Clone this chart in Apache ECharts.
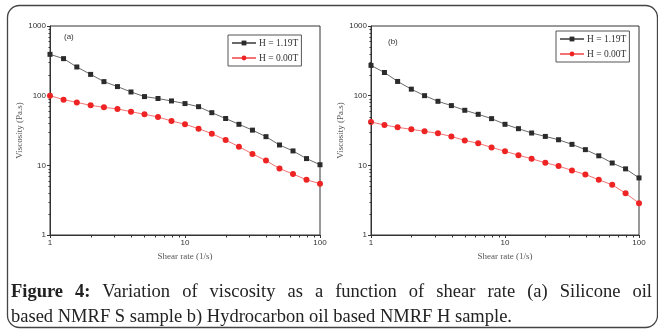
<!DOCTYPE html>
<html>
<head>
<meta charset="utf-8">
<script src="https://cdn.jsdelivr.net/npm/echarts@6/dist/echarts.min.js"></script>
<style>
  html, body { margin: 0; padding: 0; background: #fff; }
  #wrap { position: relative; width: 658px; height: 331px; overflow: hidden; }
  #chart { position: absolute; left: 0; top: 0; width: 658px; height: 331px; }
  .cap {
    position: absolute; left: 11px; width: 641px;
    font-family: "Liberation Serif", "DejaVu Serif", serif;
    font-size: 18.5px; line-height: 21px; color: #222; white-space: nowrap;
  }
  #cap1 { top: 281px; text-align: justify; text-align-last: justify; white-space: normal; }
  #cap2 { top: 306px; }
</style>
</head>
<body>
<div id="wrap">
  <div id="chart"></div>
  <div class="cap" id="cap1"><b>Figure 4:</b> Variation of viscosity as a function of shear rate (a) Silicone oil</div>
  <div class="cap" id="cap2">based NMRF S sample b) Hydrocarbon oil based NMRF H sample.</div>
</div>
<script>
// shear rate (1/s), same for both samples
const shearRate = [1, 1.26, 1.58, 2, 2.51, 3.16, 3.98, 5.01, 6.31, 7.94, 10, 12.6, 15.8, 20, 25.1, 31.6, 39.8, 50.1, 63.1, 79.4, 100];
// (a) silicone oil based sample, viscosity Pa.s
const siliconeOn = [392, 340, 258, 202, 159, 135, 113, 97, 91, 84, 77, 69.5, 57, 47, 38.8, 32, 25.8, 19.6, 16.1, 12.5, 10.2];
const siliconeOff = [100, 87.7, 80, 72.6, 68, 64.4, 58.9, 54, 49.4, 43.3, 38.8, 33.6, 28.5, 23.1, 18.5, 14.6, 11.7, 9.0, 7.5, 6.2, 5.45];
// (b) hydrocarbon oil based sample
const hydroOn = [272, 215, 160, 124, 100, 83, 72, 61.7, 54, 46.8, 38.8, 33.6, 29.1, 26, 23.3, 20, 16.8, 13.7, 10.8, 8.9, 6.6];
const hydroOff = [41.9, 37.9, 35.1, 32.9, 30.8, 28.8, 26, 22.8, 20.7, 18.1, 15.9, 14, 12.4, 10.9, 9.75, 8.45, 7.4, 6.2, 5.25, 3.98, 2.86];
const legendNames = ["H = 1.19T", "H = 0.00T"];
const panelTags = ["(a)", "(b)"];
// minor log ticks (2..9 of each decade)
const xMinor = [2, 3, 4, 5, 6, 7, 8, 9, 20, 30, 40, 50, 60, 70, 80, 90];
const yMinor = [2, 3, 4, 5, 6, 7, 8, 9, 20, 30, 40, 50, 60, 70, 80, 90, 200, 300, 400, 500, 600, 700, 800, 900];

const serif = '"Liberation Serif", "DejaVu Serif", serif';
const sans = '"Liberation Sans", Arial, sans-serif';

function pair(xs, ys) {
  return xs.map((x, i) => [x, ys[i]]);
}

function xAxisFor(idx) {
  return {
    type: "log", logBase: 10, gridIndex: idx, min: 1, max: 100,
    name: "Shear rate (1/s)", nameLocation: "middle", nameGap: 17,
    nameTextStyle: { fontFamily: serif, fontSize: 9, color: "#555" },
    axisLine: { lineStyle: { color: "#333", width: 1 } },
    axisTick: { show: true, inside: false, length: 3, lineStyle: { color: "#333" } },
    axisLabel: { fontFamily: sans, fontSize: 8, color: "#333", margin: 4, formatter: v => String(v) },
    splitLine: { show: false }
  };
}

function yAxisFor(idx) {
  return {
    type: "log", logBase: 10, gridIndex: idx, min: 1, max: 1000,
    name: "Viscosity (Pa.s)", nameLocation: "middle", nameGap: 17,
    nameTextStyle: { fontFamily: serif, fontSize: 9, color: "#555" },
    axisLine: { lineStyle: { color: "#333", width: 1 } },
    axisTick: { show: true, inside: false, length: 3, lineStyle: { color: "#333" } },
    axisLabel: { fontFamily: sans, fontSize: 8, color: "#333", margin: 4, formatter: v => String(v) },
    splitLine: { show: false }
  };
}

// short minor ticks drawn through the axes' own scales
// (log axis minorTick doesn't give the 2..9 pattern)
function minorTicks(idx, dir) {
  const vals = dir === "x" ? xMinor : yMinor;
  return {
    type: "custom", xAxisIndex: idx, yAxisIndex: idx, silent: true, clip: false, z: 5,
    data: vals.map(v => (dir === "x" ? [v, 1] : [1, v])),
    renderItem: (params, api) => {
      const p = api.coord([api.value(0), api.value(1)]);
      const x = Math.round(p[0]) + 0.5;
      const y = Math.round(p[1]) + 0.5;
      const shape = dir === "x"
        ? { x1: x, y1: y, x2: x, y2: y + 2 }
        : { x1: x - 2, y1: y, x2: x, y2: y };
      return { type: "line", shape: shape, style: { stroke: "#333", lineWidth: 1 } };
    }
  };
}

function onSeries(idx, data) {
  return {
    name: legendNames[0], type: "line", xAxisIndex: idx, yAxisIndex: idx,
    data: pair(shearRate, data), symbol: "rect", symbolSize: 5,
    lineStyle: { color: "#6a6a6a", width: 1 },
    itemStyle: { color: "#2b2b2b" }
  };
}

function offSeries(idx, data) {
  return {
    name: legendNames[1], type: "line", xAxisIndex: idx, yAxisIndex: idx,
    data: pair(shearRate, data), symbol: "circle", symbolSize: 6,
    lineStyle: { color: "#f47272", width: 1 },
    itemStyle: { color: "#ee2424" }
  };
}

function legendFor(left, top) {
  return {
    left: left, top: top, orient: "vertical",
    data: legendNames,
    borderColor: "#555", borderWidth: 1, padding: [3, 3, 3, 3],
    itemWidth: 24, itemHeight: 6, itemGap: 5,
    textStyle: { fontFamily: serif, fontSize: 9.5, color: "#333", padding: [0, 0, 0, -2] },
    selectedMode: false
  };
}

const chart = echarts.init(document.getElementById("chart"), null, { renderer: "canvas" });
chart.setOption({
  animation: false,
  backgroundColor: "#fff",
  grid: [
    { left: 50, right: 338, top: 26, bottom: 96, show: true, borderColor: "#333", borderWidth: 1 },
    { left: 371, right: 19, top: 26, bottom: 96, show: true, borderColor: "#333", borderWidth: 1 }
  ],
  xAxis: [xAxisFor(0), xAxisFor(1)],
  yAxis: [yAxisFor(0), yAxisFor(1)],
  legend: [legendFor(228, 35), legendFor(556, 31)],
  series: [
    minorTicks(0, "x"), minorTicks(0, "y"), minorTicks(1, "x"), minorTicks(1, "y"),
    onSeries(0, siliconeOn), offSeries(0, siliconeOff),
    onSeries(1, hydroOn), offSeries(1, hydroOff)
  ],
  graphic: [
    {
      type: "rect", silent: true,
      shape: { x: 7.5, y: 5.5, width: 650, height: 322, r: 12 },
      style: { fill: null, stroke: "#444", lineWidth: 1.3 }
    },
    {
      type: "text", left: 64, top: 33,
      style: { text: panelTags[0], font: '8px "Liberation Sans", Arial, sans-serif', fill: "#333" }
    },
    {
      type: "text", left: 388, top: 38,
      style: { text: panelTags[1], font: '8px "Liberation Sans", Arial, sans-serif', fill: "#333" }
    }
  ]
});
</script>
</body>
</html>
